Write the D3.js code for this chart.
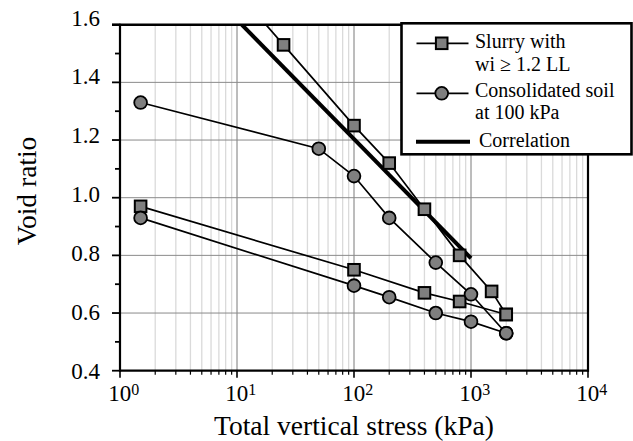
<!DOCTYPE html>
<html>
<head>
<meta charset="utf-8">
<script src="https://cdn.jsdelivr.net/npm/d3@7"></script>
<style>
  html, body { margin: 0; padding: 0; background: #fff; }
  svg { display: block; }
  svg text { font-family: "Liberation Serif", "DejaVu Serif", serif; }
</style>
</head>
<body>
<div id="chart"></div>
<script>
// Void ratio vs total vertical stress (log scale)
const slurryUpperStress = [10, 25, 100, 200, 400, 800, 1500, 2000];
const slurryUpperVoid = [1.715, 1.53, 1.25, 1.12, 0.96, 0.80, 0.675, 0.595];
const slurryLowerStress = [1.5, 100, 400, 800, 2000];
const slurryLowerVoid = [0.97, 0.75, 0.67, 0.64, 0.595];
const consolUpperStress = [1.5, 50, 100, 200, 500, 1000, 2000];
const consolUpperVoid = [1.33, 1.17, 1.075, 0.93, 0.775, 0.665, 0.53];
const consolLowerStress = [1.5, 100, 200, 500, 1000, 2000];
const consolLowerVoid = [0.93, 0.695, 0.655, 0.60, 0.57, 0.53];
const correlationStress = [10, 1000];
const correlationVoid = [1.617, 0.79];

const yTicks = [0.4, 0.6, 0.8, 1.0, 1.2, 1.4, 1.6];
const yMinorTicks = [0.5, 0.7, 0.9, 1.1, 1.3, 1.5];
const xDecades = [0, 1, 2, 3, 4];
const legendLabels = [['Slurry with', 'wi \u2265 1.2 LL'], ['Consolidated soil', 'at 100 kPa'], ['Correlation']];

const width = 633, height = 441;
const pl = 120, pr = 588, pt = 24.7, pb = 370.7;
const serif = '"Liberation Serif", "DejaVu Serif", serif';

const svg = d3.select('#chart').append('svg')
  .attr('width', width).attr('height', height);

const x = d3.scaleLog().domain([1, 1e4]).range([pl, pr]);
const y = d3.scaleLinear().domain([0.4, 1.6]).range([pb, pt]);

// minor x values 2..9 in each decade
const xMinor = [];
xDecades.slice(0, -1).forEach(p => {
  for (let k = 2; k <= 9; k++) xMinor.push(k * Math.pow(10, p));
});

// grid
const grid = svg.append('g');
grid.selectAll('.vminor').data(xMinor).join('line')
  .attr('x1', d => x(d)).attr('x2', d => x(d))
  .attr('y1', pt).attr('y2', pb)
  .attr('stroke', '#dadada').attr('stroke-width', 1.3);
grid.selectAll('.vmajor').data([10, 100, 1000]).join('line')
  .attr('x1', d => x(d)).attr('x2', d => x(d))
  .attr('y1', pt).attr('y2', pb)
  .attr('stroke', '#7a7a7a').attr('stroke-width', 1);
grid.selectAll('.hmajor').data(yTicks.slice(1, -1)).join('line')
  .attr('x1', pl).attr('x2', pr)
  .attr('y1', d => y(d)).attr('y2', d => y(d))
  .attr('stroke', '#8a8a8a').attr('stroke-width', 1);

// axes frame
const frame = svg.append('g').attr('stroke', '#000');
frame.append('line').attr('x1', pl).attr('x2', pl).attr('y1', pt - 1).attr('y2', pb + 1).attr('stroke-width', 2.2);
frame.append('line').attr('x1', pl - 1).attr('x2', pr + 1).attr('y1', pb).attr('y2', pb).attr('stroke-width', 2.2);
frame.append('line').attr('x1', pr).attr('x2', pr).attr('y1', pt).attr('y2', pb + 1).attr('stroke-width', 2.2);
frame.append('line').attr('x1', pl - 8).attr('x2', pr).attr('y1', pt).attr('y2', pt).attr('stroke-width', 2.6);

// y ticks
frame.selectAll('.ytick').data(yTicks).join('line')
  .attr('x1', pl - 8).attr('x2', pl)
  .attr('y1', d => y(d)).attr('y2', d => y(d)).attr('stroke-width', 1.8);
frame.selectAll('.yminor').data(yMinorTicks).join('line')
  .attr('x1', pl - 5).attr('x2', pl)
  .attr('y1', d => y(d)).attr('y2', d => y(d)).attr('stroke-width', 1.8);

// x ticks
frame.selectAll('.xtick').data(xDecades).join('line')
  .attr('x1', d => x(Math.pow(10, d))).attr('x2', d => x(Math.pow(10, d)))
  .attr('y1', pb).attr('y2', pb + 7).attr('stroke-width', 1.6);
frame.selectAll('.xminor').data(xMinor).join('line')
  .attr('x1', d => x(d)).attr('x2', d => x(d))
  .attr('y1', pb).attr('y2', pb + 4).attr('stroke-width', 1.2);

// y labels
svg.append('g').selectAll('text').data(yTicks).join('text')
  .attr('x', 100).attr('y', d => y(d) - (d - 0.4) * 6)
  .attr('dy', '0.35em')
  .attr('text-anchor', 'end')
  .attr('font-family', serif)
  .attr('font-size', 23)
  .text(d => d.toFixed(1));

// x labels with superscript
const xl = svg.append('g').selectAll('text').data(xDecades).join('text')
  .attr('x', d => x(Math.pow(10, d)) - 11.7)
  .attr('y', 401)
  .attr('font-family', serif)
  .attr('font-size', 23);
xl.append('tspan').text('10');
xl.append('tspan').attr('font-size', 16).attr('dy', -6).text(d => d);

// axis titles
svg.append('text')
  .attr('x', (pl + pr) / 2).attr('y', 435)
  .attr('text-anchor', 'middle').attr('font-size', 27.5)
  .attr('font-family', serif)
  .text('Total vertical stress (kPa)');
svg.append('text')
  .attr('transform', 'translate(36,191) rotate(-90)')
  .attr('text-anchor', 'middle').attr('font-size', 27.5)
  .attr('font-family', serif)
  .text('Void ratio');

// data
svg.append('clipPath').attr('id', 'plot-clip')
  .append('rect').attr('x', pl).attr('y', pt).attr('width', pr - pl).attr('height', pb - pt);

const lineGen = d3.line().x(d => x(d[0])).y(d => y(d[1]));
const zip = (a, b) => a.map((v, i) => [v, b[i]]);

const series = [
  { pts: zip(slurryUpperStress, slurryUpperVoid), marker: 'square' },
  { pts: zip(slurryLowerStress, slurryLowerVoid), marker: 'square' },
  { pts: zip(consolUpperStress, consolUpperVoid), marker: 'circle' },
  { pts: zip(consolLowerStress, consolLowerVoid), marker: 'circle' }
];

const plot = svg.append('g').attr('clip-path', 'url(#plot-clip)');
plot.selectAll('.series').data(series).join('path')
  .attr('d', d => lineGen(d.pts))
  .attr('fill', 'none').attr('stroke', '#000').attr('stroke-width', 1.7);

const markers = svg.append('g');
series.forEach(s => {
  const inside = s.pts.filter(p => p[1] <= 1.6);
  if (s.marker === 'square') {
    markers.selectAll(null).data(inside).join('rect')
      .attr('x', d => x(d[0]) - 5.8).attr('y', d => y(d[1]) - 5.8)
      .attr('width', 11.6).attr('height', 11.6)
      .attr('fill', '#7f7f7f').attr('stroke', '#000').attr('stroke-width', 2);
  } else {
    markers.selectAll(null).data(inside).join('circle')
      .attr('cx', d => x(d[0])).attr('cy', d => y(d[1])).attr('r', 6.4)
      .attr('fill', '#7f7f7f').attr('stroke', '#000').attr('stroke-width', 1.8);
  }
});

plot.append('path')
  .attr('d', lineGen(zip(correlationStress, correlationVoid)))
  .attr('fill', 'none').attr('stroke', '#000').attr('stroke-width', 4);

// legend
const lg = svg.append('g');
lg.append('rect').attr('x', 401.5).attr('y', 23.3).attr('width', 230).attr('height', 131)
  .attr('fill', '#fff').attr('stroke', '#000').attr('stroke-width', 2.6);
const symY = [43.3, 93.3, 141.7];
const textY = [[48.3, 70.7], [96.7, 119], [146.7]];
const textX = [475, 475, 479];
[0, 1].forEach(i => {
  lg.append('line').attr('x1', 416.5).attr('x2', 468.5).attr('y1', symY[i]).attr('y2', symY[i])
    .attr('stroke', '#000').attr('stroke-width', 1.7);
});
lg.append('rect').attr('x', 441.7 - 5.8).attr('y', symY[0] - 5.8).attr('width', 11.6).attr('height', 11.6)
  .attr('fill', '#7f7f7f').attr('stroke', '#000').attr('stroke-width', 2);
lg.append('circle').attr('cx', 441.7).attr('cy', symY[1]).attr('r', 6.4)
  .attr('fill', '#7f7f7f').attr('stroke', '#000').attr('stroke-width', 1.8);
lg.append('line').attr('x1', 416).attr('x2', 470).attr('y1', symY[2]).attr('y2', symY[2])
  .attr('stroke', '#000').attr('stroke-width', 4);
legendLabels.forEach((lines, i) => {
  lines.forEach((t, j) => {
    lg.append('text').attr('x', textX[i]).attr('y', textY[i][j])
      .attr('font-family', serif)
      .attr('font-size', 20).text(t);
  });
});
</script>
</body>
</html>
